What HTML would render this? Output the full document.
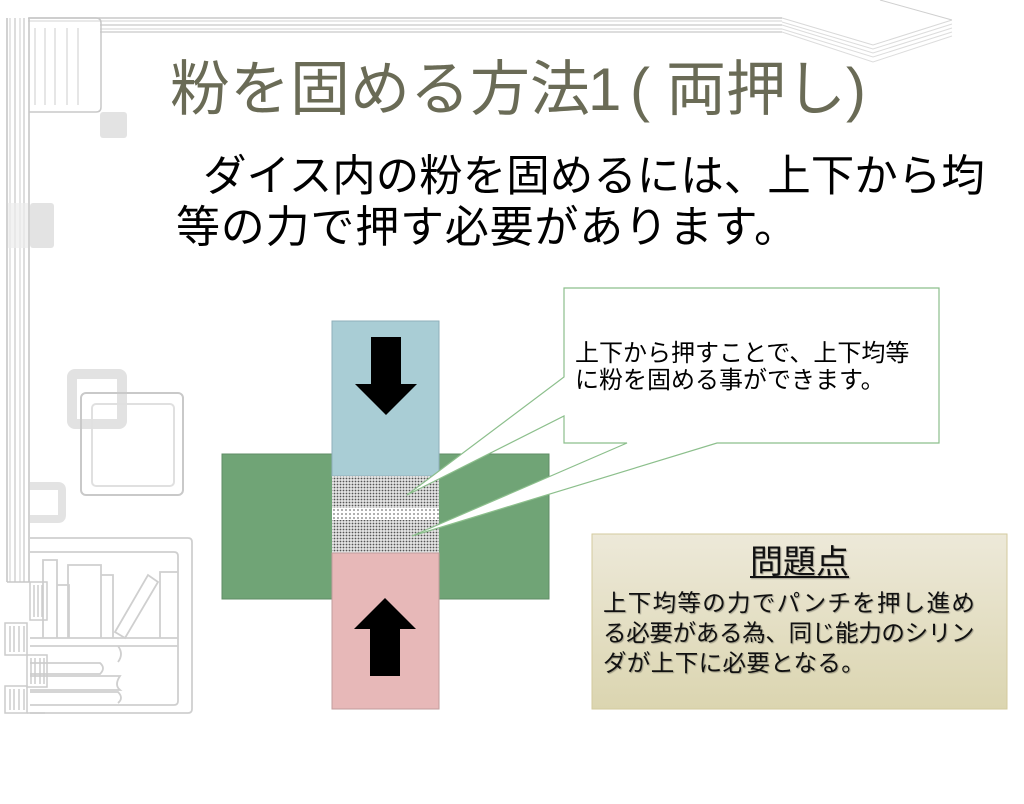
<!DOCTYPE html>
<html><head><meta charset="utf-8">
<style>
html,body{margin:0;padding:0;background:#fff;}
body{width:1024px;height:804px;position:relative;overflow:hidden;font-family:"Liberation Sans","Noto Sans CJK JP",sans-serif;}
.t{position:absolute;white-space:nowrap;}
.ti{position:absolute;white-space:nowrap;top:60px;font-size:60px;line-height:60px;color:#6a6b56;}
#sub1{left:203px;top:152px;font-size:43.5px;line-height:50px;color:#000;}
#sub2{left:176px;top:203px;font-size:44px;line-height:50px;letter-spacing:0.8px;color:#000;}
#call{left:575px;top:340px;font-size:24px;line-height:27px;color:#000;}
#prob{left:603px;top:588px;font-size:23.5px;line-height:30px;color:#111;text-shadow:1px 1px 1px rgba(0,0,0,0.3);}
#head{left:592px;width:415px;top:544px;text-align:center;font-size:33px;line-height:36px;color:#111;text-shadow:1px 1px 1px rgba(0,0,0,0.3);}
#head span{text-decoration:underline;text-underline-offset:3px;text-decoration-thickness:2px;}
</style></head>
<body>
<svg width="1024" height="804" style="position:absolute;left:0;top:0">
<defs>
<pattern id="dots" width="3" height="3" patternUnits="userSpaceOnUse">
<rect width="3" height="3" fill="#e4e4e4"/>
<circle cx="1.5" cy="1.5" r="0.9" fill="#555"/>
</pattern>
<pattern id="dots2" width="4" height="4" patternUnits="userSpaceOnUse">
<rect width="4" height="4" fill="#fff"/>
<circle cx="2" cy="2" r="0.9" fill="#777"/>
</pattern>
<linearGradient id="pg" x1="0" y1="0" x2="0" y2="1">
<stop offset="0" stop-color="#ede9d9"/>
<stop offset="1" stop-color="#dbd5b0"/>
</linearGradient>
</defs>
<g fill="none" stroke="#d2d2d2" stroke-width="1.5">
<line x1="28" y1="18" x2="782" y2="18" stroke="#c8c8c8"/>
<line x1="28" y1="21" x2="782" y2="21" stroke="#e2e2e2"/>
<line x1="100" y1="25" x2="782" y2="25"/>
<line x1="100" y1="29" x2="782" y2="29" stroke="#e2e2e2"/>
<line x1="100" y1="32" x2="782" y2="32"/>
<polyline points="782,18 873,45 952,20" stroke="#d8d8d8" stroke-width="1"/>
<polyline points="782,22 873,49 952,24" stroke="#dcdcdc" stroke-width="1"/>
<polyline points="782,25 873,53 952,28" stroke="#dcdcdc" stroke-width="1"/>
<polyline points="782,29 873,57 952,32" stroke="#dcdcdc" stroke-width="1"/>
<polyline points="782,32 873,62 952,36" stroke="#dcdcdc" stroke-width="1"/>
<line x1="880" y1="0" x2="952" y2="20" stroke="#cfcfcf" stroke-width="1"/>
<line x1="7" y1="18" x2="7" y2="582" stroke="#c4c4c4"/>
<line x1="10" y1="18" x2="10" y2="582" stroke="#dedede"/>
<line x1="15" y1="18" x2="15" y2="582"/>
<line x1="20" y1="18" x2="20" y2="582" stroke="#dedede"/>
<line x1="24" y1="18" x2="24" y2="582"/>
<line x1="29" y1="18" x2="29" y2="582" stroke="#c4c4c4"/>
<line x1="7" y1="582" x2="30" y2="582" stroke="#c8c8c8"/>
<path d="M29,18 L96,18 Q101,18 101,23 L101,107 Q101,112 96,112 L29,112" stroke="#c8c8c8"/>
<line x1="35" y1="28" x2="35" y2="105" stroke="#dedede"/>
<line x1="45" y1="28" x2="45" y2="105" stroke="#dedede"/>
<line x1="55" y1="28" x2="55" y2="105" stroke="#dedede"/>
<line x1="67" y1="28" x2="67" y2="105" stroke="#dedede"/>
<line x1="78" y1="28" x2="78" y2="105" stroke="#dedede"/>
</g>
<rect x="100" y="112" width="27" height="26" rx="3" fill="#e3e3e3"/>
<rect x="30" y="203" width="24" height="45" rx="3" fill="#e3e3e3"/>
<rect x="8" y="203" width="20" height="45" fill="#ececec" opacity="0.7"/>
<rect x="72" y="374" width="50" height="50" rx="3" fill="none" stroke="#e2e2e2" stroke-width="10"/>
<rect x="81" y="393" width="102" height="102" rx="5" fill="none" stroke="#c9c9c9" stroke-width="2"/>
<rect x="92" y="404" width="82" height="82" rx="4" fill="none" stroke="#e0e0e0" stroke-width="2"/>
<path d="M30,486 L58,486 Q62,486 62,490 L62,515 Q62,519 58,519 L30,519" fill="none" stroke="#e3e3e3" stroke-width="8"/>
<g fill="none" stroke="#cfcfcf" stroke-width="1.8">
<path d="M30,538 L188,538 Q192,538 192,542 L192,709 Q192,713 188,713 L30,713"/>
<path d="M30,552 L174,552 Q178,552 178,556 L178,701 Q178,705 174,705 L30,705"/>
<line x1="30" y1="638" x2="178" y2="638"/>
<line x1="30" y1="646" x2="178" y2="646"/>
<polyline points="43,638 43,560 57,560 57,638"/>
<polyline points="57,585 69,585 69,638"/>
<polyline points="68,638 68,565 101,565 101,638"/>
<polyline points="101,575 113,575 113,638"/>
<polygon points="115,632 148,575 158,582 125,638"/>
<polyline points="160,638 160,572 178,572"/>
<path d="M30,663 L100,663 Q106,668 100,674 L30,674" />
<path d="M30,676 L120,676 Q114,685 120,690 L30,690"/>
<path d="M30,692 L118,692 Q124,698 118,703"/>
<path d="M118,646 Q124,654 118,662"/>
</g>
<g fill="none" stroke="#cccccc" stroke-width="1.5">
<rect x="30" y="582" width="17" height="38"/>
<line x1="34" y1="585" x2="34" y2="617"/><line x1="38" y1="585" x2="38" y2="617"/><line x1="42" y1="585" x2="42" y2="617"/>
<rect x="5" y="623" width="22" height="32"/>
<line x1="10" y1="626" x2="10" y2="652"/><line x1="14" y1="626" x2="14" y2="652"/><line x1="19" y1="626" x2="19" y2="652"/><line x1="24" y1="626" x2="24" y2="652"/>
<rect x="27" y="655" width="20" height="32"/>
<line x1="31" y1="658" x2="31" y2="684"/><line x1="35" y1="658" x2="35" y2="684"/><line x1="40" y1="658" x2="40" y2="684"/><line x1="44" y1="658" x2="44" y2="684"/>
<rect x="5" y="686" width="22" height="27"/>
<line x1="10" y1="689" x2="10" y2="710"/><line x1="14" y1="689" x2="14" y2="710"/><line x1="19" y1="689" x2="19" y2="710"/><line x1="24" y1="689" x2="24" y2="710"/>
<line x1="27" y1="713" x2="45" y2="713"/>
</g>

<rect x="222" y="454" width="327" height="145" fill="#70a476" stroke="#5f8c65" stroke-width="1"/>
<rect x="332" y="321" width="107" height="155" fill="#a9cdd5" stroke="#8eafba" stroke-width="1"/>
<rect x="332" y="476" width="107" height="77" fill="url(#dots)"/>
<rect x="332" y="508" width="107" height="12" fill="url(#dots2)"/>
<rect x="332" y="553" width="107" height="156" fill="#e7b8b8" stroke="#c29d9d" stroke-width="1"/>
<polygon points="371,337 401,337 401,384 417,384 386,415 355,384 371,384" fill="#000"/>
<polygon points="370,676 400,676 400,629 416,629 385,598 354,629 370,629" fill="#000"/>

<path d="M564,288 L939,288 L939,443 L717,443 L412,536 L627,443 L564,443 L564,416 L407,495 L564,377 Z" fill="#fff" stroke="#8cbf8c" stroke-width="1.2"/>

<rect x="592" y="534" width="415" height="175" fill="url(#pg)" stroke="#d3ca9e" stroke-width="1"/>
</svg>

<div class="ti" style="left:170px">粉を固める方法</div>
<div class="ti" style="left:588px">1</div>
<div class="ti" style="left:630px">(</div>
<div class="ti" style="left:666px">両押し</div>
<div class="ti" style="left:846px">)</div>
<div class="t" id="sub1">ダイス内の粉を固めるには、上下から均</div>
<div class="t" id="sub2">等の力で押す必要があります。</div>
<div class="t" id="call">上下から押すことで、上下均等<br>に粉を固める事ができます。</div>
<div class="t" id="head"><span>問題点</span></div>
<div class="t" id="prob"><span style="letter-spacing:1.3px">上下均等の力でパンチを押し進め</span><br><span style="letter-spacing:-0.3px">る必要がある為、同じ能力のシリン</span><br><span style="letter-spacing:0.4px">ダが上下に必要となる。</span></div>
</body></html>
